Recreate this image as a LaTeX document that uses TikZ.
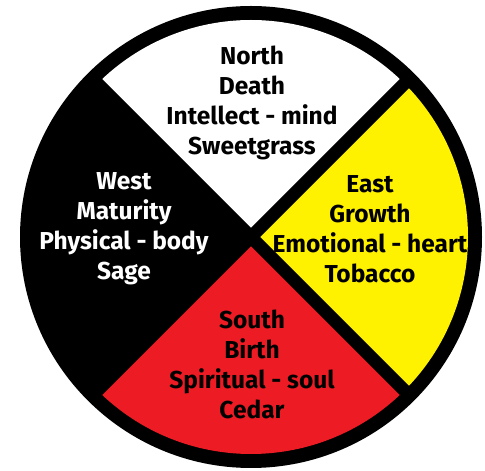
\documentclass[tikz,border=0pt]{standalone}
\usepackage{fontspec}
\setmainfont{Fira Sans}
\definecolor{wyellow}{HTML}{FFF200}
\definecolor{wred}{HTML}{ED1C24}
\begin{document}
\begin{tikzpicture}[x=1pt,y=1pt,
  lbl/.style={align=center, font=\fontsize{24.5}{30}\selectfont\bfseries, inner sep=0pt},
  band/.style={line width=13pt, black}]
\useasboundingbox (0,0) rectangle (485,471);
\coordinate (c) at (251,234);
\fill[black] (c) circle[radius=231];
\fill[white] (c) -- ++(45:217) arc[start angle=45, end angle=135, radius=217] -- cycle;
\fill[wyellow] (c) -- ++(-45:217) arc[start angle=-45, end angle=45, radius=217] -- cycle;
\fill[wred] (c) -- ++(225:217) arc[start angle=225, end angle=315, radius=217] -- cycle;
\path (c) ++(45:224) coordinate (ne);
\path (c) ++(225:224) coordinate (sw);
\path (c) ++(135:224) coordinate (nw);
\path (c) ++(-45:224) coordinate (se);
\draw[band] (ne) -- (sw);
\draw[band] (nw) -- (se);
\node[lbl, text=black] (north) at (252,368) {North\\Death\\Intellect - mind\\Sweetgrass};
\node[lbl, text=black] (east) at (370,242) {East\\Growth\\Emotional - heart\\Tobacco};
\node[lbl, text=white] (west) at (124,242) {West\\Maturity\\Physical - body\\Sage};
\node[lbl, text=black] (south) at (252,107) {South\\Birth\\Spiritual - soul\\Cedar};
\end{tikzpicture}
\end{document}
